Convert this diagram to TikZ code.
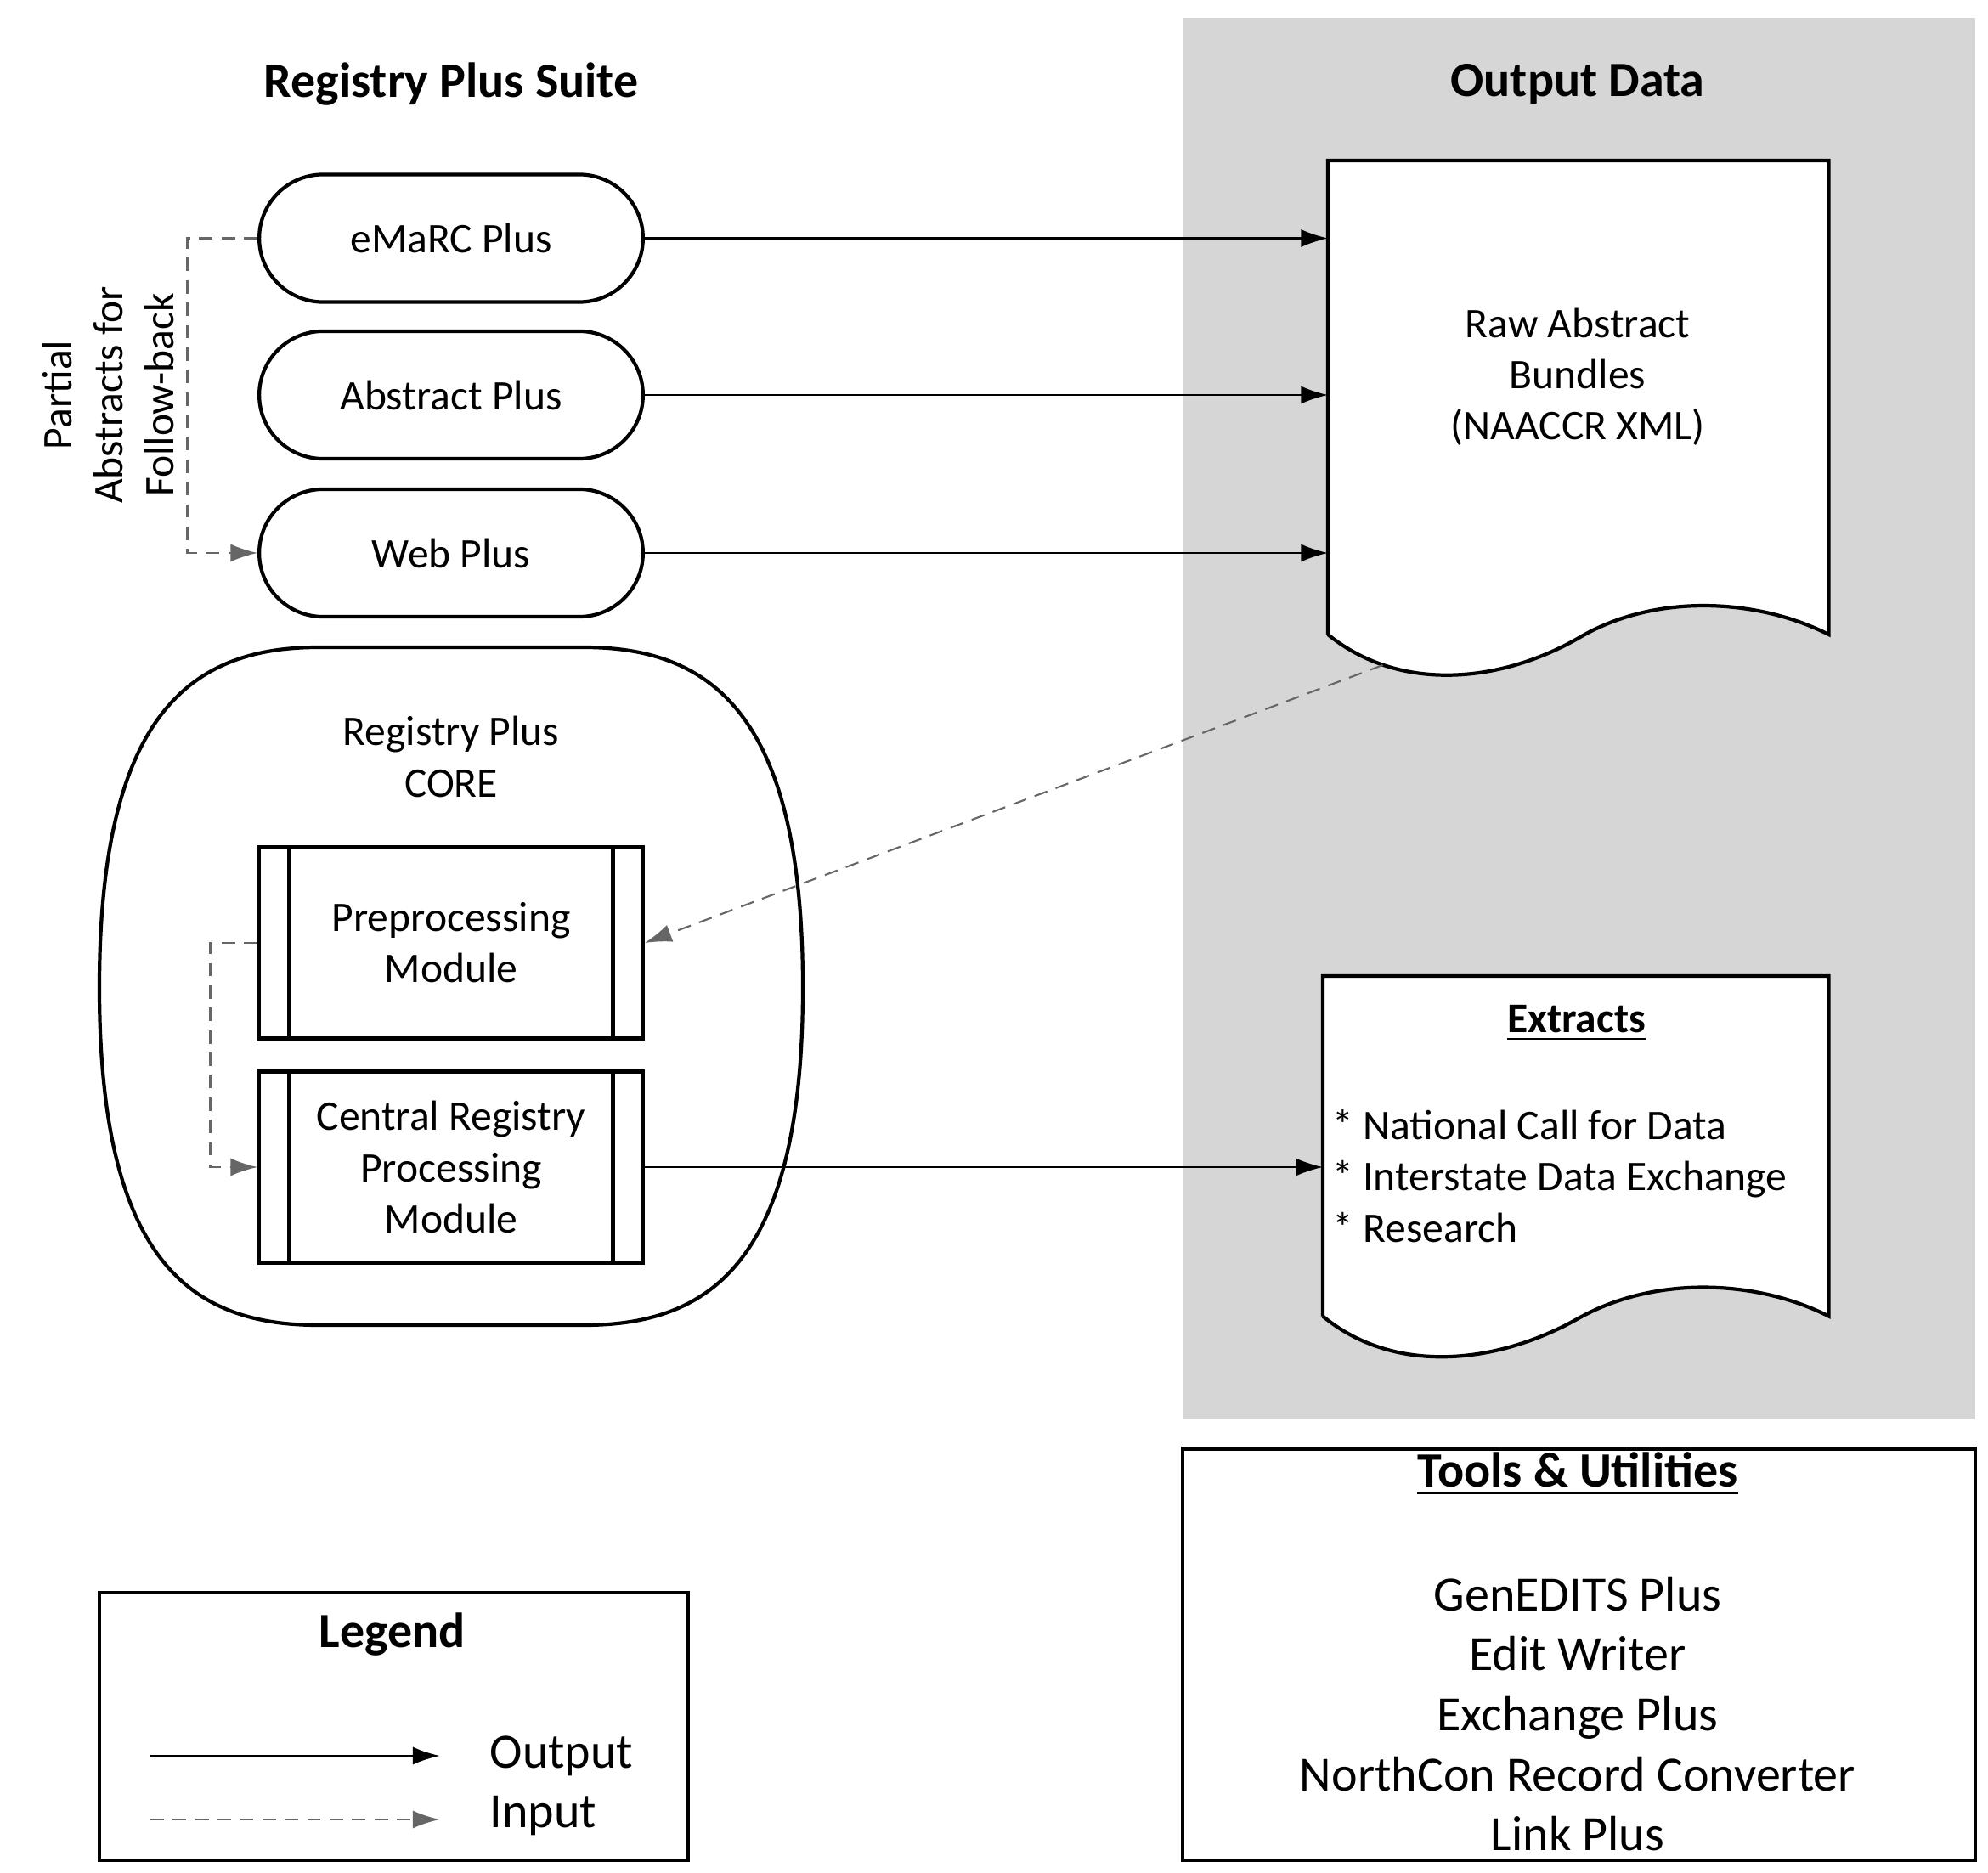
\documentclass[tikz,border=0pt]{standalone}
\usepackage{fontspec}
\setmainfont{Carlito}
\usetikzlibrary{arrows.meta}
\tikzset{
  term/.style={draw,thick,rounded corners=0.5cm,minimum width=3.01cm,minimum height=1cm,font=\fontsize{9.4}{11.4}\selectfont},
  proc/.style={draw,thick,minimum width=3.01cm,minimum height=1.5cm,align=center,font=\fontsize{9.4}{11.4}\selectfont},
  txt/.style={align=center,font=\fontsize{9.4}{11.4}\selectfont},
  big/.style={align=center,font=\fontsize{11}{13.4}\selectfont},
  ttl/.style={font=\bfseries\fontsize{11}{13}\selectfont},
  outarr/.style={-{Latex[length=6pt,width=4pt]},thin},
  inparr/.style={-{Latex[length=6pt,width=4pt]},thin,gray!80!black,dash pattern=on 3pt off 2pt},
}
\begin{document}
\begin{tikzpicture}[x=0.01cm,y=-0.01cm]
  \useasboundingbox (0,0) rectangle (1560,1470);
  \fill[black!16] (928,14) rectangle (1550,1113);
  \node[ttl] (suite) at (354,66) {Registry Plus Suite};
  \node[ttl] (outdata) at (1238,66) {Output Data};

  % abstracting tools
  \node[term] (emarc) at (354,187) {eMaRC Plus};
  \node[term] (abstract) at (354,310) {Abstract Plus};
  \node[term] (web) at (354,434) {Web Plus};

  % core
  \draw[thick] (78,775) .. controls (78,560) and (150,508) .. (250,508) -- (458,508)
    .. controls (558,508) and (630,560) .. (630,775)
    .. controls (630,990) and (558,1040) .. (458,1040) -- (250,1040)
    .. controls (150,1040) and (78,990) .. (78,775) -- cycle;
  \node[txt] (core) at (354,594) {Registry Plus\\CORE};
  \node[proc] (prep) at (354,740) {Preprocessing\\Module};
  \node[proc] (central) at (354,916) {Central Registry\\Processing\\Module};
  \foreach \n in {prep,central}{
    \draw[thick] ([xshift=0.25cm]\n.north west) -- ([xshift=0.25cm]\n.south west);
    \draw[thick] ([xshift=-0.25cm]\n.north east) -- ([xshift=-0.25cm]\n.south east);
  }

  % documents
  \draw[thick,fill=white] (1042,498) -- (1042,126) -- (1435,126) -- (1435,498)
    .. controls (1380,470) and (1300,465) .. (1240,500)
    .. controls (1180,535) and (1100,545) .. (1042,498);
  \node[txt] (raw) at (1238,296) {Raw Abstract\\Bundles\\(NAACCR XML)};
  \coordinate (rawA) at (1042,187);
  \coordinate (rawB) at (1042,310);
  \coordinate (rawC) at (1042,434);
  \coordinate (rawD) at (1085,522);
  \draw[thick,fill=white] (1038,1033) -- (1038,766) -- (1435,766) -- (1435,1033)
    .. controls (1380,1005) and (1300,1000) .. (1238,1035)
    .. controls (1176,1070) and (1095,1080) .. (1038,1033);
  \node[txt,font=\bfseries\fontsize{9.4}{11.4}\selectfont] (extracts) at (1237,803) {\underline{Extracts}};
  \node[txt,align=left,anchor=west,inner sep=0pt] (extlist) at (1045,923) {* National Call for Data\\* Interstate Data Exchange\\* Research};
  \coordinate (extA) at (1038,916);

  % connectors
  \draw[outarr] (emarc) -- (rawA);
  \draw[outarr] (abstract) -- (rawB);
  \draw[outarr] (web) -- (rawC);
  \draw[outarr] (central) -- (extA);
  \draw[inparr] (rawD) -- (prep.east);
  \draw[inparr] (emarc.west) -| (147,310) |- (web.west);
  \draw[inparr] (prep.west) -| (165,830) |- (central.west);
  \node[txt,rotate=90] (partial) at (85,310) {Partial\\Abstracts for\\Follow-back};

  % tools
  \draw[thick] (928,1137) rectangle (1550,1460);
  \node[ttl] (tools) at (1238,1157) {\underline{Tools \& Utilities}};
  \node[big] (toollist) at (1238,1345) {GenEDITS Plus\\Edit Writer\\Exchange Plus\\NorthCon Record Converter\\Link Plus};

  % legend
  \draw[thick] (78,1250) rectangle (540,1460);
  \node[ttl] (legend) at (308,1283) {Legend};
  \coordinate (la) at (118,1378);
  \coordinate (lb) at (345,1378);
  \coordinate (lc) at (118,1428);
  \coordinate (ld) at (345,1428);
  \draw[outarr] (la) -- (lb);
  \draw[inparr] (lc) -- (ld);
  \node[big,anchor=west] (lout) at (372,1378) {Output};
  \node[big,anchor=west] (lin) at (372,1425) {Input};
\end{tikzpicture}
\end{document}
